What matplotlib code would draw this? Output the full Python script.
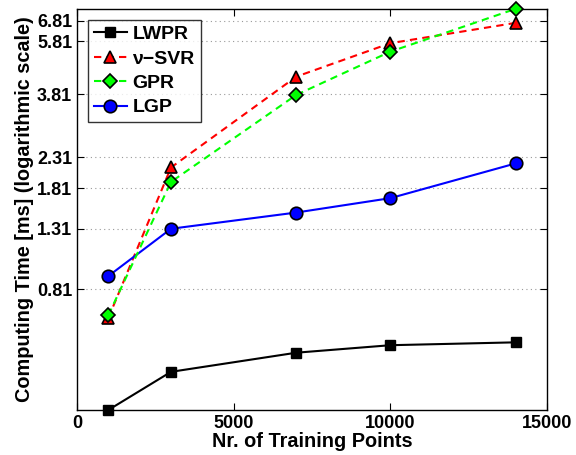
import matplotlib
matplotlib.use("Agg")
import matplotlib.pyplot as plt
from matplotlib.ticker import FixedLocator, FixedFormatter, NullLocator

plt.rcParams['font.family'] = ['Liberation Sans', 'DejaVu Sans']
plt.rcParams['font.weight'] = 'bold'

train_points = [1000, 3000, 7000, 10000, 14000]
lwpr = [0.311, 0.421, 0.49, 0.52, 0.532]
nu_svr = [0.645, 2.13, 4.38, 5.71, 6.71]
gpr = [0.66, 1.90, 3.79, 5.34, 7.5]
lgp = [0.90, 1.31, 1.49, 1.67, 2.20]

ytick_vals = [0.81, 1.31, 1.81, 2.31, 3.81, 5.81, 6.81]
ytick_labels = ['0.81', '1.31', '1.81', '2.31', '3.81', '5.81', '6.81']
xtick_vals = [0, 5000, 10000, 15000]
xtick_labels = ['0', '5000', '10000', '15000']

fig = plt.figure(figsize=(5.76, 4.55), dpi=100)
ax = fig.add_axes([77/576, 45/455, 470/576, 401/455])

ax.plot(train_points, lwpr, '-', color='black', lw=1.5, marker='s', ms=7.5,
        mfc='black', mec='black', label='LWPR', clip_on=False, zorder=3)
ax.plot(train_points, nu_svr, '--', color='#ff0000', lw=1.5, marker='^', ms=9,
        mfc='#ff0000', mec='black', mew=1.2, label='\u03bd\u2212SVR', clip_on=False, zorder=3,
        dashes=(3.5, 2.5))
ax.plot(train_points, gpr, '--', color='#00ff00', lw=1.5, marker='D', ms=7,
        mfc='#00ff00', mec='black', mew=1.2, label='GPR', clip_on=False, zorder=4,
        dashes=(3.5, 2.5))
ax.plot(train_points, lgp, '-', color='#0000ff', lw=1.5, marker='o', ms=9,
        mfc='#0000ff', mec='black', mew=1.2, label='LGP', clip_on=False, zorder=3)

ax.set_yscale('log')
ax.set_ylim(0.311, 7.49)
ax.set_xlim(0, 15000)
ax.yaxis.set_major_locator(FixedLocator(ytick_vals))
ax.yaxis.set_major_formatter(FixedFormatter(ytick_labels))
ax.yaxis.set_minor_locator(NullLocator())
ax.set_xticks(xtick_vals)
ax.set_xticklabels(xtick_labels)

ax.tick_params(direction='in', top=True, right=True, labelsize=13, length=5, width=0.8)
for lab in ax.get_xticklabels() + ax.get_yticklabels():
    lab.set_fontweight('bold')
for s in ax.spines.values():
    s.set_linewidth(1.0)

ax.yaxis.grid(True, linestyle=(0, (1, 3)), color='#999999', lw=0.8)
ax.set_axisbelow(True)

ax.set_xlabel('Nr. of Training Points', fontsize=14.3, fontweight='bold', labelpad=0)
ax.set_ylabel('Computing Time [ms] (logarithmic scale)', fontsize=14.3, fontweight='bold', labelpad=2)

leg = ax.legend(loc='upper left', frameon=True, fancybox=False,
                edgecolor='black', handlelength=1.7, handletextpad=0.3,
                borderpad=0.3, labelspacing=0.35, borderaxespad=0.55,
                prop={'weight': 'bold', 'size': 14})
leg.get_frame().set_linewidth(1.0)

fig.savefig('out.png', dpi=100)
